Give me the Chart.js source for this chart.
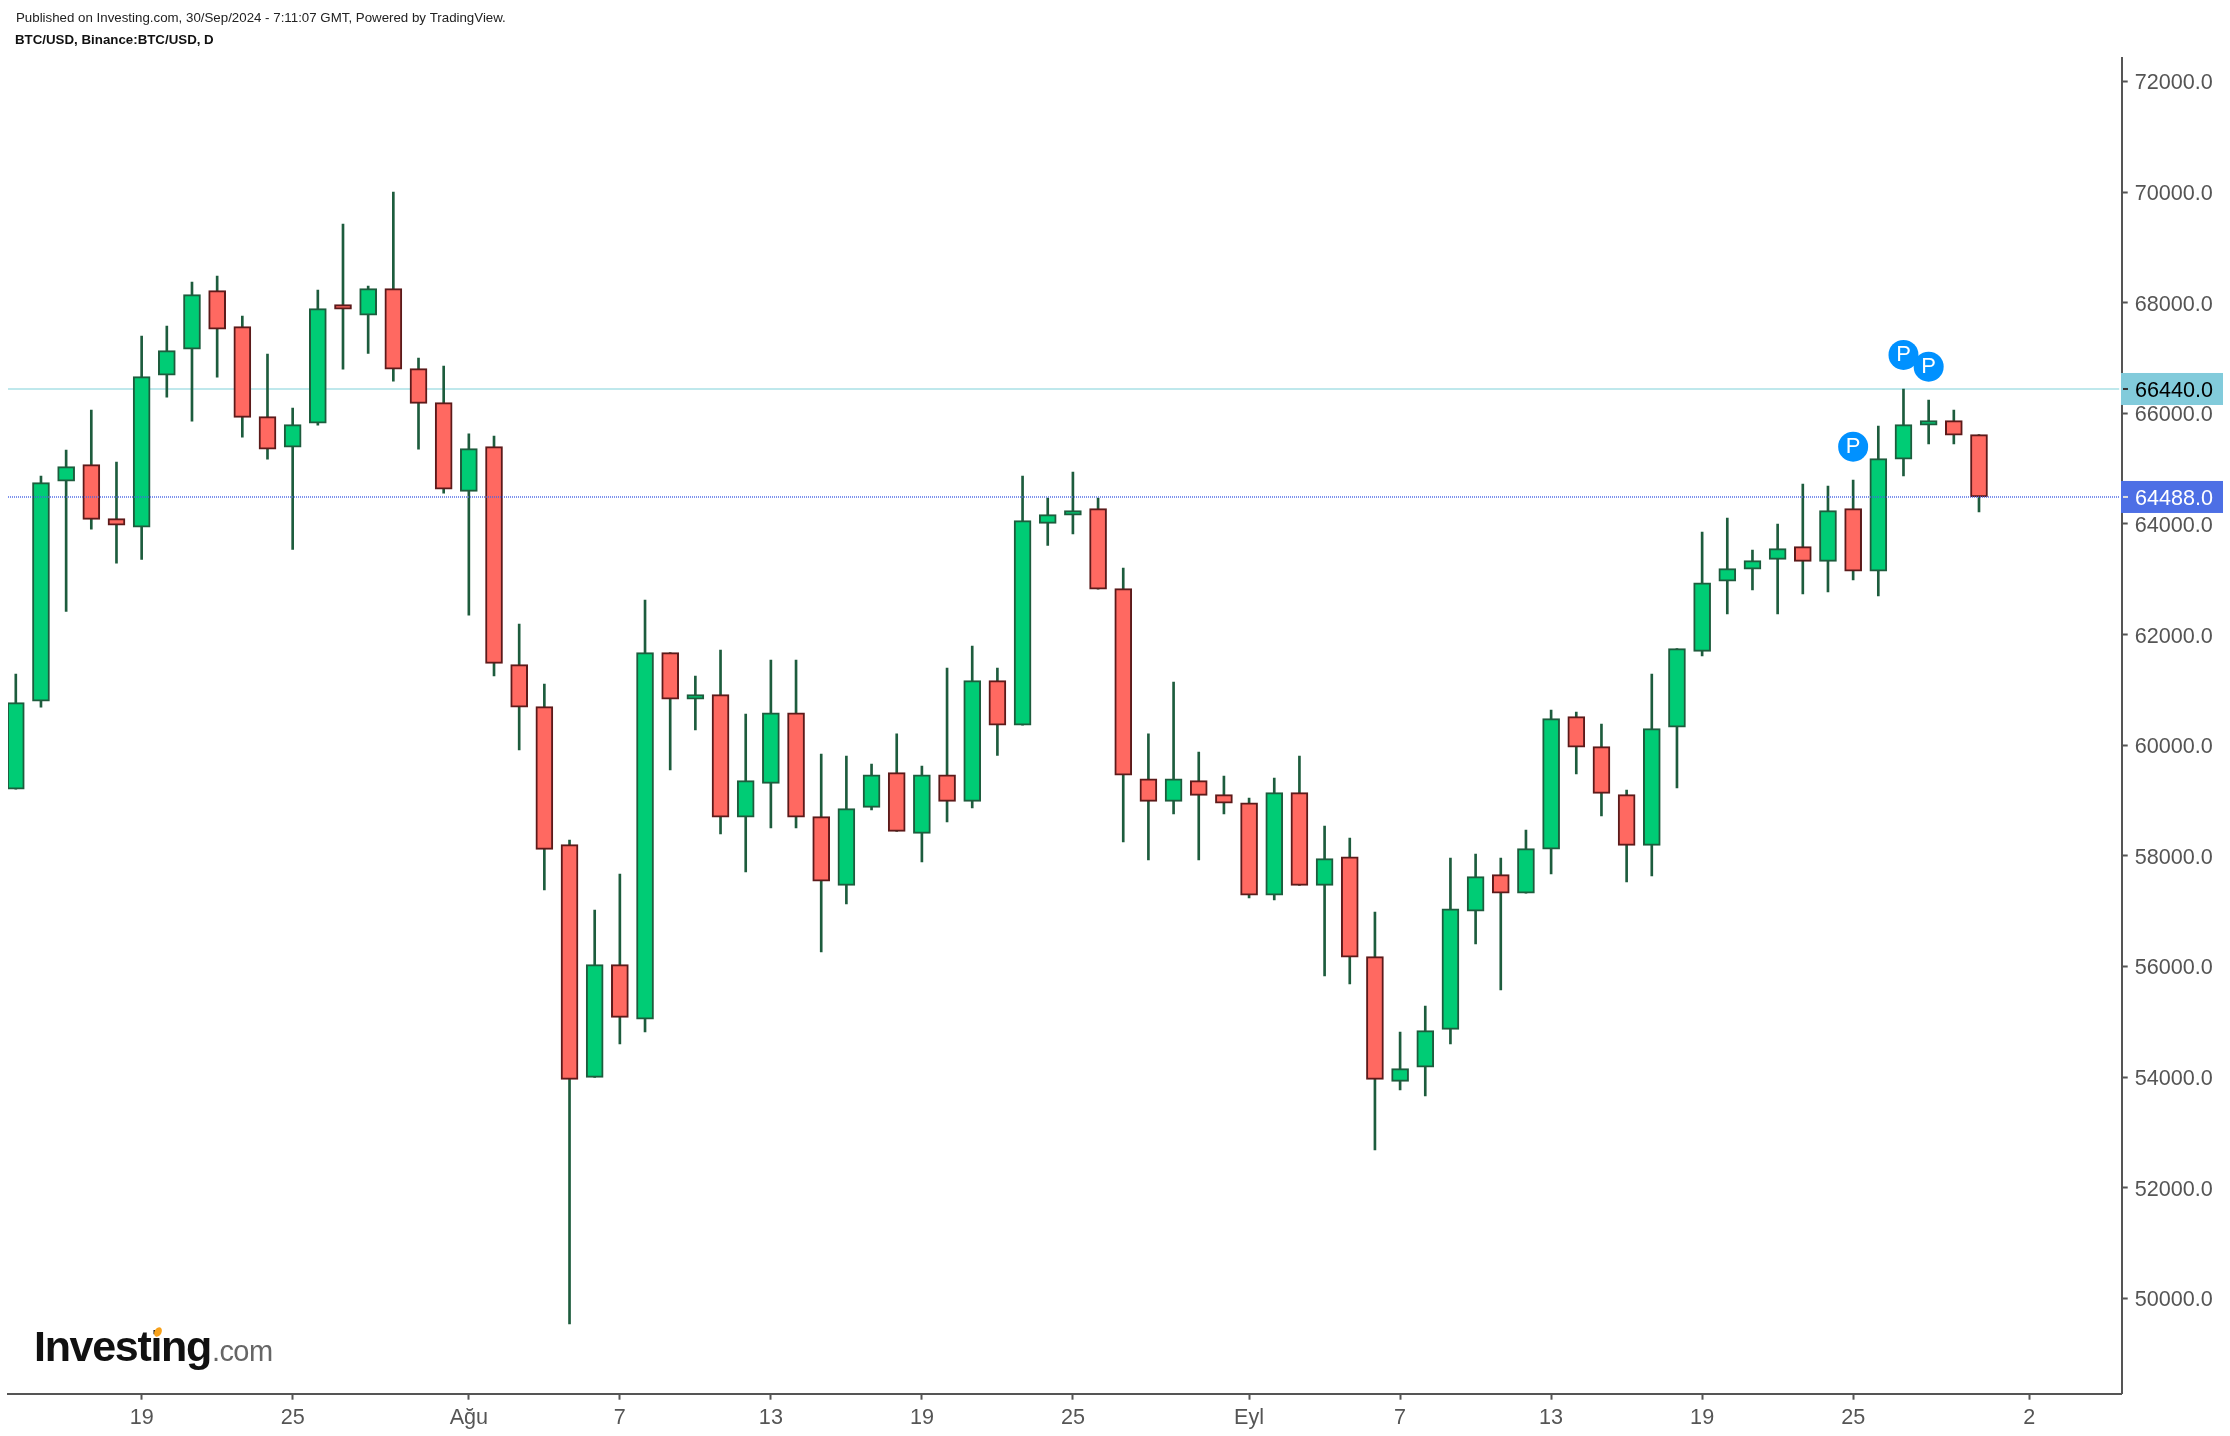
<!DOCTYPE html>
<html>
<head>
<meta charset="utf-8">
<title>BTC/USD</title>
<script src="https://cdn.jsdelivr.net/npm/chart.js@4"></script>
<style>
    html, body { margin: 0; padding: 0; background: #fff; }
    canvas { display: block; }
</style>
</head>
<body>
<canvas id="chart" width="2230" height="1436"></canvas>
<script>
// daily candles, day 0 = 14 Jul 2024, last one = 30 Sep 2024
const opens = [59204,60795,64772,65072,64095,63940,66688,67158,68217,67566,65939,65386,65820,67964,67772,68253,
    66807,66192,64590,65397,61456,60697,58202,53997,56033,55046,61673,60831,60914,58698,59312,60588,58709,57468,
    58878,59504,58408,59467,58986,61167,60361,64012,64157,64276,62830,59395,58986,59359,59106,58961,57288,59143,
    57468,57985,56178,53925,54179,54865,57002,57660,57324,58120,60516,59974,59106,58191,60325,61698,62964,63181,
    63361,63589,63325,64276,63145,65169,65784,65867,65614];
const closes = [60769,64746,65035,64084,63976,66662,67132,68145,67519,65928,65350,65795,67892,67881,68253,66796,
    66181,64627,65361,61481,60686,58119,53961,56033,55082,61673,60831,60914,58698,59359,60588,58698,57541,58853,
    59467,58444,59467,58986,61167,60361,64059,64168,64240,62819,59457,58986,59395,59095,58951,57288,59143,57468,
    57950,56167,53961,54153,54840,57045,57624,57324,58130,60480,59963,59131,58191,60299,61746,62938,63192,63336,
    63553,63325,64240,63145,65180,65795,65867,65603,64488];
const highs = [61288,64867,65337,66060,65120,67398,67579,68374,68483,67760,67073,66096,68230,69423,68302,70001,
    66998,66856,65627,65590,62192,61107,58287,57022,57673,62626,61673,61252,61722,60565,61541,61541,59842,59806,
    59661,60204,59625,61396,61794,61396,64867,64470,64940,64470,63204,60204,61143,59878,59444,59046,59408,59806,
    58540,58323,56986,54816,55286,57962,58034,57962,58468,60637,60601,60384,59191,61288,61746,63855,64108,63530,
    63998,64723,64687,64795,65771,66440,66241,66060,65614];
const lows = [59204,60686,62421,63904,63289,63361,66290,65856,66652,65567,65169,63542,65784,66796,67085,66579,
    65350,64555,62349,61252,59914,57383,49538,53997,54600,54816,59553,60276,58396,57709,58504,58504,56263,57130,
    58830,58444,57889,58613,58866,59818,60361,63614,63819,62819,58251,57926,58757,57926,58757,57239,57202,57468,
    55829,55684,52683,53768,53660,54600,56407,55576,57324,57673,59480,58721,57528,57637,59227,61613,62373,62807,
    62373,62734,62770,62987,62698,64867,65446,65446,64217];

const xTickDays = [5, 11, 18, 24, 30, 36, 42, 49, 55, 61, 67, 73, 80];
const xTickLabels = ['19', '25', 'Ağu', '7', '13', '19', '25', 'Eyl', '7', '13', '19', '25', '2'];
const yTickValues = [50000, 52000, 54000, 56000, 58000, 60000, 62000, 64000, 66000, 68000, 70000, 72000];

const highLine = 66440;
const lastLine = 64488;
const markerDays = [73, 75, 76];
const markerPrices = [65397, 67055, 66843];

const xMin = -0.31, xMax = 83.67, yMin = 48278, yMax = 72423;

const GREEN = '#00cc75', RED = '#ff6961', GREEN_EDGE = '#1d5c3d', RED_EDGE = '#5c1a1a', WICK = '#1d5c3d';
const AXIS = '#555555', FONT = '"Liberation Sans", Arial, sans-serif';

const isUp = opens.map((o, i) => closes[i] >= o);

const overlay = {
    id: 'overlay',
    afterDatasetsDraw(chart) {
        // letters on the markers
        const c = chart.ctx;
        const pts = chart.getDatasetMeta(4).data;
        c.save();
        c.fillStyle = '#fff';
        c.font = '22px ' + FONT;
        c.textAlign = 'center';
        c.textBaseline = 'middle';
        pts.forEach(p => c.fillText('P', p.x, p.y));
        c.restore();
    },
    afterDraw(chart) {
        const c = chart.ctx, y = chart.scales.y;
        const box = (val, fill, color, tick) => {
            const py = y.getPixelForValue(val);
            c.fillStyle = fill;
            c.fillRect(2121, py - 16, 102, 32);
            c.fillStyle = tick;
            c.fillRect(2123, py - 1, 5, 2);
            c.fillStyle = color;
            c.font = '21.6px ' + FONT;
            c.textAlign = 'left';
            c.textBaseline = 'middle';
            c.fillText(val.toFixed(1), 2135, py + 2);
        };
        c.save();
        box(highLine, '#82cbdb', '#000', '#333');
        box(lastLine, '#4d6fe5', '#fff', '#ddd');

        // header
        c.fillStyle = '#222';
        c.textAlign = 'left';
        c.textBaseline = 'middle';
        c.font = '13.3px ' + FONT;
        c.fillText('Published on Investing.com, 30/Sep/2024 - 7:11:07 GMT, Powered by TradingView.', 16, 18);
        c.fillStyle = '#111';
        c.font = 'bold 13.3px ' + FONT;
        c.fillText('BTC/USD, Binance:BTC/USD, D', 15, 40.5);

        // logo
        c.textBaseline = 'alphabetic';
        c.fillStyle = '#111';
        c.font = 'bold 43px ' + FONT;
        c.letterSpacing = '-1.3px';
        c.fillText('Investing', 34, 1361);
        c.fillStyle = '#666';
        c.font = '29px ' + FONT;
        c.letterSpacing = '-0.6px';
        c.fillText('.com', 212, 1361);
        c.letterSpacing = '0px';
        c.fillStyle = '#f7a11a';
        c.beginPath();
        c.ellipse(158, 1332, 3.5, 5, 0.5, 0, Math.PI * 2);
        c.fill();
        c.restore();
    }
};

new Chart(document.getElementById('chart'), {
    type: 'bar',
    plugins: [overlay],
    data: {
        datasets: [
            {
                type: 'line',
                data: [{x: xMin, y: highLine}, {x: xMax - 0.1, y: highLine}],
                borderColor: '#bfe8ec',
                borderWidth: 2,
                pointRadius: 0,
                order: 5
            },
            {
                data: lows.map((l, i) => ({x: i, y: [l, highs[i]]})),
                backgroundColor: WICK,
                barThickness: 2,
                grouped: false,
                order: 4
            },
            {
                data: opens.map((o, i) => ({x: i, y: [o, closes[i]]})),
                backgroundColor: isUp.map(u => u ? GREEN : RED),
                borderColor: isUp.map(u => u ? GREEN_EDGE : RED_EDGE),
                borderWidth: 2,
                borderSkipped: false,
                barThickness: 17,
                grouped: false,
                order: 3
            },
            {
                type: 'line',
                data: [{x: xMin, y: lastLine}, {x: xMax - 0.1, y: lastLine}],
                borderColor: 'rgba(70,100,230,0.7)',
                borderWidth: 2,
                borderDash: [1, 1],
                pointRadius: 0,
                order: 2
            },
            {
                type: 'line',
                showLine: false,
                data: markerDays.map((d, i) => ({x: d, y: markerPrices[i]})),
                pointRadius: 15,
                pointBackgroundColor: '#0091ff',
                pointBorderWidth: 0,
                order: 1
            }
        ]
    },
    options: {
        responsive: false,
        animation: false,
        events: [],
        layout: {autoPadding: false, padding: {left: 8, top: 58, right: 0, bottom: 0}},
        plugins: {legend: {display: false}, tooltip: {enabled: false}, title: {display: false}},
        scales: {
            x: {
                type: 'linear',
                offset: false,
                min: xMin,
                max: xMax,
                afterBuildTicks: s => { s.ticks = xTickDays.map(v => ({value: v})); },
                afterFit: s => { s.height = 42.3; s.paddingLeft = 0; s.paddingRight = 0; },
                border: {color: AXIS, width: 2},
                grid: {offset: false, drawOnChartArea: false, tickLength: 6, tickColor: AXIS, tickWidth: 2},
                ticks: {
                    autoSkip: false,
                    maxRotation: 0,
                    padding: 5,
                    color: AXIS,
                    font: {family: FONT, size: 21.6},
                    callback: v => xTickLabels[xTickDays.indexOf(v)]
                }
            },
            y: {
                position: 'right',
                min: yMin,
                max: yMax,
                afterBuildTicks: s => { s.ticks = yTickValues.map(v => ({value: v})); },
                afterFit: s => { s.width = 108.3; s.paddingTop = 0; s.paddingBottom = 0; },
                border: {color: AXIS, width: 2},
                grid: {drawOnChartArea: false, tickLength: 6, tickColor: AXIS, tickWidth: 2},
                ticks: {
                    padding: 7,
                    labelOffset: 2,
                    color: AXIS,
                    font: {family: FONT, size: 21.6},
                    callback: v => v.toFixed(1)
                }
            }
        }
    }
});
</script>
</body>
</html>
